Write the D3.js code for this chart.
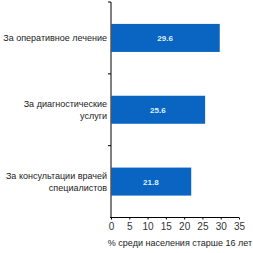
<!DOCTYPE html>
<html>
<head>
<meta charset="utf-8">
<script src="https://cdn.jsdelivr.net/npm/d3@7"></script>
<style>
body { margin: 0; background: #fff; }
text { font-family: "Liberation Sans", Arial, sans-serif; }
</style>
</head>
<body>
<div id="chart"></div>
<script>
var categories = [["За оперативное лечение"], ["За диагностические", "услуги"], ["За консультации врачей", "специалистов"]];
var values = [29.6, 25.6, 21.8];
var xTicks = [0, 5, 10, 15, 20, 25, 30, 35];
var axisTitle = "% среди населения старше 16 лет";

var w = 253, h = 253;
var plotLeft = 111, plotTop = 2, plotBottom = 217.5, plotRight = 239;

var svg = d3.select("#chart").append("svg")
    .attr("width", w)
    .attr("height", h);

var x = d3.scaleLinear().domain([0, 35]).range([plotLeft, plotRight]);
var y = d3.scaleBand()
    .domain(d3.range(categories.length))
    .range([plotTop, plotBottom])
    .paddingInner(0.61)
    .paddingOuter(0.305);

// bars
svg.selectAll("rect.bar")
    .data(values)
    .enter()
    .append("rect")
    .attr("class", "bar")
    .attr("x", x(0) + 0.5)
    .attr("y", function (d, i) { return y(i); })
    .attr("width", function (d) { return x(d) - x(0); })
    .attr("height", y.bandwidth())
    .style("fill", "#0a64c2");

svg.selectAll("text.val")
    .data(values)
    .enter()
    .append("text")
    .attr("class", "val")
    .attr("x", function (d) { return (x(0) + x(d)) / 2; })
    .attr("y", function (d, i) { return y(i) + y.bandwidth() / 2 + 3; })
    .attr("text-anchor", "middle")
    .style("font-size", "8px")
    .style("font-weight", "bold")
    .style("fill", "#dff0ff")
    .text(function (d) { return d.toFixed(1); });

// category labels
var labels = svg.selectAll("text.cat")
    .data(categories)
    .enter()
    .append("text")
    .attr("class", "cat")
    .attr("text-anchor", "end")
    .style("font-size", "9px")
    .style("fill", "#222");

labels.each(function (lines, i) {
    var cy = y(i) + y.bandwidth() / 2;
    var n = lines.length;
    d3.select(this).selectAll("tspan")
        .data(lines)
        .enter()
        .append("tspan")
        .attr("x", 107)
        .attr("y", function (d, j) { return cy + 3 + (j - (n - 1) / 2) * 12; })
        .text(function (d) { return d; });
});

// y axis line with ticks at band boundaries
svg.append("line")
    .attr("x1", plotLeft).attr("x2", plotLeft)
    .attr("y1", plotTop).attr("y2", plotBottom)
    .style("stroke", "#000");

var boundaries = d3.range(categories.length).map(function (i) { return y(i) - y.step() * y.paddingInner() / 2; });
svg.selectAll("line.ytick")
    .data(boundaries)
    .enter()
    .append("line")
    .attr("class", "ytick")
    .attr("x1", plotLeft - 3).attr("x2", plotLeft)
    .attr("y1", function (d) { return d; })
    .attr("y2", function (d) { return d; })
    .style("stroke", "#000");

// x axis
var xAxis = svg.append("g")
    .attr("transform", "translate(0," + plotBottom + ")")
    .call(d3.axisBottom(x).tickValues(xTicks).tickSize(2).tickPadding(3).tickSizeOuter(0));
xAxis.select(".domain").attr("d", "M" + (plotLeft - 1) + ",0H" + plotRight);
xAxis.selectAll("text").style("font-size", "10px").style("fill", "#333")
    .style("font-family", "Liberation Sans, Arial, sans-serif");

svg.append("text")
    .attr("x", 180)
    .attr("y", 246)
    .attr("text-anchor", "middle")
    .style("font-size", "9px")
    .style("fill", "#222")
    .text(axisTitle);
</script>
</body>
</html>
